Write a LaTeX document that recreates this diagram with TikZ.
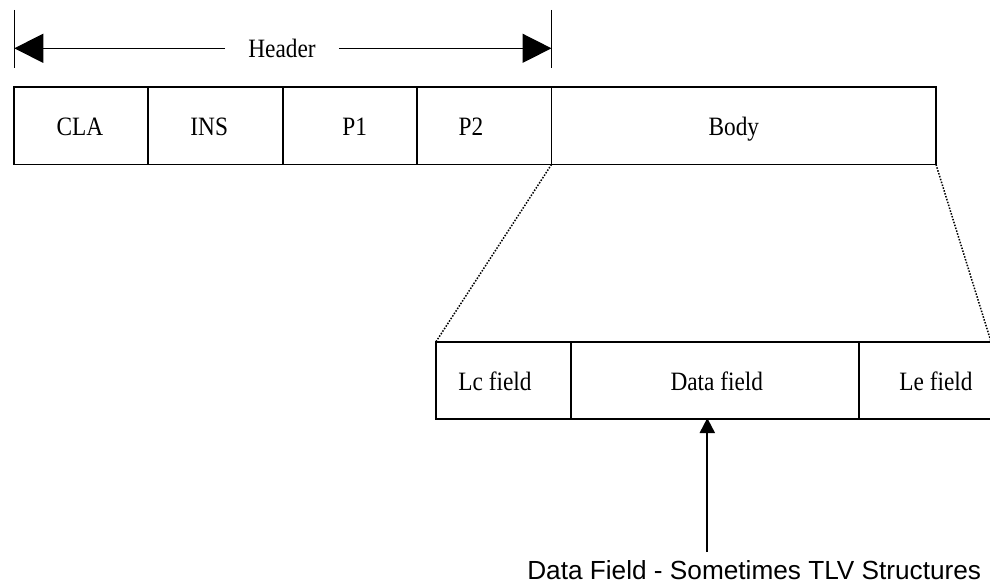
\documentclass[tikz,border=0pt]{standalone}
\usepackage{fontspec}
\usetikzlibrary{arrows.meta}
\newfontfamily\serifA[FakeStretch=0.88]{Liberation Serif}
\newfontfamily\sansA{Liberation Sans}
\begin{document}
\begin{tikzpicture}[x=1pt,y=-1pt,
  cell/.style={draw, line width=1.9pt, rectangle, inner sep=0pt, outer sep=0pt},
  toprow/.style={cell, minimum height=77.5pt},
  lowrow/.style={cell, minimum height=77.3pt},
  celltext/.style={anchor=base, inner sep=0pt, font=\serifA\fontsize{26.5}{30}\selectfont},
  notetext/.style={anchor=base, inner sep=0pt, font=\sansA\fontsize{26.2}{30}\selectfont},
  zoomline/.style={line width=1.5pt, dash pattern=on 1.5pt off 1.5pt},
  tick/.style={line width=1.3pt},
  bigarrow/.style={line width=1.5pt, -{Triangle[length=29pt,width=29pt]}},
  smallarrow/.style={line width=2pt, -{Triangle[length=15pt,width=15pt]}}
]
\path[use as bounding box, fill=white] (0,0) rectangle (990,588);

% top row
\node[toprow, minimum width=134.3pt] (cla)  at (81.15,125.75) {};
\node[toprow, minimum width=135pt]   (ins)  at (215.8,125.75) {};
\node[toprow, minimum width=134pt]   (p1)   at (350.3,125.75) {};
\node[toprow, minimum width=134.2pt] (p2)   at (484.4,125.75) {};
\node[toprow, minimum width=384.5pt] (body) at (743.75,125.75) {};
\node[celltext] (tcla)  at (80,135.5) {CLA};
\node[celltext] (tins)  at (209.2,135.5) {INS};
\node[celltext] (tp1)   at (354.7,135.5) {P1};
\node[celltext] (tp2)   at (471,135.5) {P2};
\node[celltext] (tbody) at (733.8,135.5) {Body};

% header dimension
\coordinate (hlt) at (14.3,48.3);
\coordinate (hrt) at (551.5,48.3);
\coordinate (hlt1) at (14.3,10);
\coordinate (hlt2) at (14.3,68);
\coordinate (hrt1) at (551.5,10);
\coordinate (hrt2) at (551.5,68);
\draw[tick] (hlt1) -- (hlt2);
\draw[tick] (hrt1) -- (hrt2);
\node[anchor=base, inner ysep=0pt, inner xsep=23pt, font=\serifA\fontsize{26.5}{30}\selectfont] (hdr) at (282,57.3) {Header};
\draw[bigarrow] (hdr.west |- hlt) -- (hlt);
\draw[bigarrow] (hdr.east |- hrt) -- (hrt);

% lower row
\node[lowrow, minimum width=135pt] (lc)   at (503.5,380.35) {};
\node[lowrow, minimum width=288pt] (data) at (715,380.35) {};
\node[lowrow, minimum width=132pt] (le)   at (925,380.35) {};
\node[celltext] (tlc)   at (495,390) {Lc field};
\node[celltext] (tdata) at (716.8,390) {Data field};
\node[celltext] (tle)   at (936,390) {Le field};

% zoom lines
\draw[zoomline] (body.south west) -- (lc.north west);
\draw[zoomline] (body.south east) -- (le.north east);

% data field note
\coordinate (abot) at (707.3,552);
\coordinate (atop) at (707.3,418);
\draw[smallarrow] (abot) -- (atop);
\node[notetext] (note) at (754.2,579) {Data Field - Sometimes TLV Structures};
\end{tikzpicture}
\end{document}
